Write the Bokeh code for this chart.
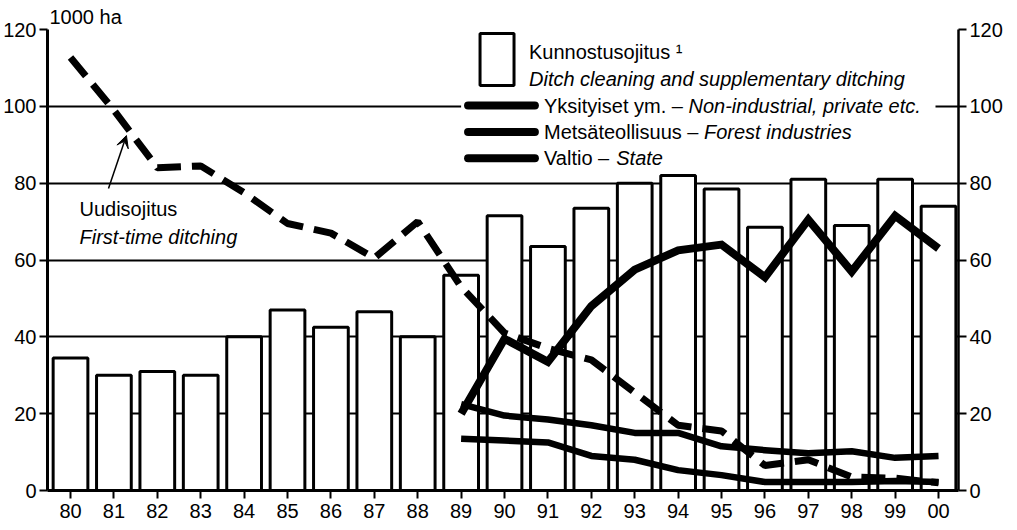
from bokeh.plotting import figure
from bokeh.models import Range1d, LinearAxis, FixedTicker, Label, Arrow, VeeHead, BoxAnnotation
from bokeh.embed import file_html
from bokeh.resources import INLINE

# ---------------- data ----------------
years = ["80", "81", "82", "83", "84", "85", "86", "87", "88", "89", "90",
         "91", "92", "93", "94", "95", "96", "97", "98", "99", "00"]
# Kunnostusojitus - ditch cleaning and supplementary ditching (bars), 1000 ha
kunnostus = [34.5, 30, 31, 30, 40, 47, 42.5, 46.5, 40, 56, 71.5,
             63.5, 73.5, 80, 82, 78.5, 68.5, 81, 69, 81, 74]
# Uudisojitus - first-time ditching (dashed), 1000 ha
uudis = [112.7, 99, 84, 84.5, 77.5, 69.5, 67, 60.5, 70, 53, 41,
         37, 34, 25.5, 17, 15.5, 6.5, 8, 3.5, 3.2, 2]
# owner groups, 1989-2000
owner_years = years[9:]
yksityiset = [20, 39.5, 33.5, 48, 57.5, 62.5, 64, 55.5, 70.5, 57, 71.5, 63]
metsateollisuus = [22.5, 19.5, 18.5, 17, 15, 15, 11.5, 10.5, 9.7, 10.2, 8.5, 9]
valtio = [13.5, 13, 12.5, 9, 8, 5.3, 4, 2.2, 2.2, 2.2, 2.5, 2.2]
y_ticks = [0, 20, 40, 60, 80, 100, 120]

idx = list(range(len(years)))
idx_owner = [years.index(y) for y in owner_years]

FONT = "Liberation Sans"
FS = "20px"

p = figure(width=1005, height=528,
           x_range=Range1d(-0.53, 20.46), y_range=Range1d(0, 120),
           output_backend="svg", toolbar_location=None,
           min_border_left=46, min_border_right=47,
           min_border_top=29, min_border_bottom=38)
p.outline_line_color = None
p.background_fill_color = "white"
p.border_fill_color = "white"

# unit label as title
p.title.text = "1000 ha"
p.title.text_font = FONT
p.title.text_font_size = FS
p.title.text_font_style = "normal"
p.title.text_color = "black"
p.title.align = "left"
p.title.offset = 2
p.title.standoff = 3

# grid
p.xgrid.visible = False
p.ygrid.ticker = FixedTicker(ticks=y_ticks[1:])
p.ygrid.grid_line_color = "black"
p.ygrid.grid_line_width = 2

def style_axis(ax, lw=3):
    ax.axis_line_color = "black"
    ax.axis_line_width = lw
    ax.major_tick_line_color = "black"
    ax.major_tick_line_width = 2
    ax.major_tick_out = 8
    ax.major_tick_in = 0
    ax.minor_tick_line_color = None
    ax.major_label_text_font = FONT
    ax.major_label_text_font_size = FS
    ax.major_label_text_color = "black"
    ax.major_label_standoff = 3

# x axis
p.xaxis.ticker = FixedTicker(ticks=idx)
p.xaxis.major_label_overrides = {i: lab for i, lab in enumerate(years)}
style_axis(p.xaxis[0])
p.xaxis.major_label_standoff = 5

# left y axis
p.yaxis.ticker = FixedTicker(ticks=y_ticks)
style_axis(p.yaxis[0])

# right y axis
ry = LinearAxis(ticker=FixedTicker(ticks=y_ticks))
style_axis(ry, lw=2.5)
p.add_layout(ry, "right")

# bars
p.vbar(x=idx, top=kunnostus, bottom=0, width=0.8,
       fill_color="white", line_color="black", line_width=3)

# lines
p.line(idx, uudis, line_color="black", line_width=7, line_dash="24 11")
p.line(idx_owner, valtio, line_color="black", line_width=6.5, line_join="round")
p.line(idx_owner, metsateollisuus, line_color="black", line_width=6.5, line_join="round")
p.line(idx_owner, yksityiset, line_color="black", line_width=8, line_join="miter")

# ---------- legend (manual) ----------
# white legend background (hides the gridline behind the legend)
p.add_layout(BoxAnnotation(left=9.0, right=19.93, bottom=83.3, top=119.5,
                           fill_color="white", fill_alpha=1.0,
                           line_color=None))
p.add_layout(BoxAnnotation(left=9.436, right=10.219, bottom=105.4, top=118.95,
                           fill_color="white", fill_alpha=1.0,
                           line_color="black", line_width=3, line_alpha=1.0))

def lab(x, y, text, italic=False, xo=0, size=FS):
    p.add_layout(Label(x=x, y=y, x_offset=xo, text=text, text_font=FONT,
                       text_font_size=size, text_color="black",
                       text_font_style="italic" if italic else "normal",
                       text_baseline="alphabetic", text_align="left"))

lab(10.564, 114.2, "Kunnostusojitus \u00b9")
lab(10.564, 107.0, "Ditch cleaning and supplementary ditching", italic=True)

legend_rows = [
    (100.2, 100.1, "Yksityiset ym. \u2013 ", "Non-industrial, private etc.", 144.5),
    (93.3, 93.2, "Metsäteollisuus \u2013 ", "Forest industries", 160.0),
    (86.5, 86.5, "Valtio \u2013 ", "State", 72.3),
]
for yl, yt, reg, ital, off in legend_rows:
    p.add_layout(Arrow(start=None, end=None, x_start=9.16, y_start=yl,
                       x_end=10.70, y_end=yl, line_color="black",
                       line_width=8, line_cap="round"))
    lab(10.909, yt, reg)
    lab(10.909, yt, ital, italic=True, xo=off)

# annotation for first-time ditching
p.add_layout(Arrow(end=VeeHead(size=12, fill_color="black", line_color="black"),
                   x_start=0.875, y_start=78.6, x_end=1.289, y_end=92.4,
                   line_color="black", line_width=1.5))
lab(0.207, 73.2, "Uudisojitus")
lab(0.207, 65.9, "First-time ditching", italic=True)

open("out.html", "w").write(file_html(p, INLINE))
